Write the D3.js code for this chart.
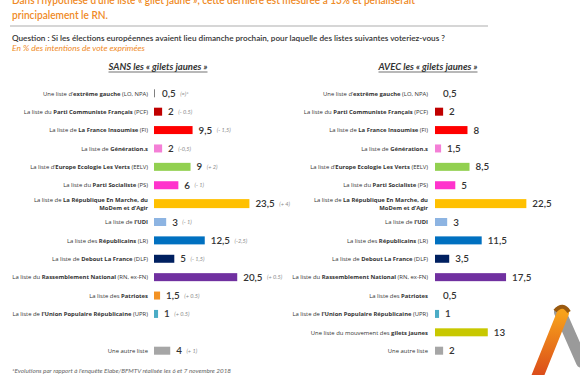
<!DOCTYPE html>
<html><head><meta charset="utf-8">
<script src="https://cdn.jsdelivr.net/npm/d3@7/dist/d3.min.js"></script>
<style>
html,body{margin:0;padding:0;background:#fff;}
svg{display:block;font-family:Lato,"Open Sans",sans-serif;}
</style></head>
<body>
<svg id="chart" width="580" height="375"></svg>
<script>
// ---------- data ----------
const titleLines = [
  "Dans l'hypothèse d'une liste « gilet jaune », cette dernière est mesurée à 13% et pénaliserait",
  "principalement le RN."
];
const question = "Question : Si les élections européennes avaient lieu dimanche prochain, pour laquelle des listes suivantes voteriez-vous ?";
const subtitle = "En % des intentions de vote exprimées";
const footnote = "*Evolutions par rapport à l'enquête Elabe/BFMTV réalisée les 6 et 7 novembre 2018";
const panelTitles = ["SANS les « gilets jaunes »", "AVEC les « gilets jaunes »"];

// each category: [prefix, bold part, suffix] ; LREM on two lines
const categories = [
  [["Une liste d\u2019", "extrême gauche", " (LO, NPA)"]],
  [["La liste du ", "Parti Communiste Français", " (PCF)"]],
  [["La liste de ", "La France Insoumise", " (FI)"]],
  [["La liste de ", "Génération.s", ""]],
  [["La liste d\u2019", "Europe Ecologie Les Verts", " (EELV)"]],
  [["La liste du ", "Parti Socialiste", " (PS)"]],
  [["La liste de ", "La République En Marche, du", ""], ["", "MoDem et d\u2019Agir", ""]],
  [["La liste de ", "l\u2019UDI", ""]],
  [["La liste des ", "Républicains", " (LR)"]],
  [["La liste de ", "Debout La France", " (DLF)"]],
  [["La liste du ", "Rassemblement National", " (RN, ex-FN)"]],
  [["La liste des ", "Patriotes", ""]],
  [["La liste de ", "l\u2019Union Populaire Républicaine", " (UPR)"]],
  [["Une liste du mouvement des ", "gilets jaunes", ""]],
  [["", "", "Une autre liste"]]
];
const valuesSans = [0.5, 2, 9.5, 2, 9, 6, 23.5, 3, 12.5, 5, 20.5, 1.5, 1, null, 4];
const valuesAvec = [0.5, 2, 8, 1.5, 8.5, 5, 22.5, 3, 11.5, 3.5, 17.5, 0.5, 1, 13, 2];
const evolutions = ["(=)*", "(- 0.5)", "(- 1,5)", "(-0,5)", "(+ 2)", "(- 1)", "(+ 4)", "(- 1)", "(-2,5)", "(- 1,5)", "(+ 0.5)", "(+ 0.5)", "(+ 0.5)", null, "(+ 1)"];

// ---------- styles ----------
const colors = ["#7f7f7f", "#c00000", "#ff0000", "#f47fd6", "#92d050", "#ff33cc", "#ffc000",
                "#8db4e2", "#0070c0", "#002060", "#7030a0", "#f39223", "#4bacc6", "#c8c800", "#a6a6a6"];
const orange = "#ef8a25";
const textCol = "#333333";

const svg = d3.select("#chart");

// header
svg.append("text").attr("x", 12).attr("y", 4).attr("fill", orange)
  .attr("font-size", 12).attr("font-weight", 600)
  .attr("textLength", 403).attr("lengthAdjust", "spacingAndGlyphs").text(titleLines[0]);
svg.append("text").attr("x", 12).attr("y", 19).attr("fill", orange)
  .attr("font-size", 12).attr("font-weight", 600)
  .attr("textLength", 96).attr("lengthAdjust", "spacingAndGlyphs").text(titleLines[1]);
svg.append("line").attr("x1", 10).attr("x2", 488).attr("y1", 26).attr("y2", 26)
  .attr("stroke", "#c8c8c8").attr("stroke-width", 1.5);
svg.append("text").attr("x", 12).attr("y", 41).attr("fill", textCol)
  .attr("font-size", 8).attr("font-weight", 600)
  .attr("textLength", 433).attr("lengthAdjust", "spacingAndGlyphs").text(question);
svg.append("text").attr("x", 12).attr("y", 51).attr("fill", orange)
  .attr("font-size", 7.5).attr("font-style", "italic")
  .attr("textLength", 133).attr("lengthAdjust", "spacingAndGlyphs").text(subtitle);
svg.append("text").attr("x", 12).attr("y", 373).attr("fill", "#666")
  .attr("font-size", 6.5).attr("font-style", "italic")
  .attr("textLength", 219).attr("lengthAdjust", "spacingAndGlyphs").text(footnote);

// rows
const y = d3.scalePoint().domain(d3.range(categories.length)).range([93.3, 350.7]);
const barH = 8;

function panel(values, x0, labelRight, headCenter, title, showEvo, hideTiny) {
  const x = d3.scaleLinear().domain([0, 25]).range([x0, x0 + 25 * 4.06]);
  const g = svg.append("g");
  g.append("text").attr("x", headCenter).attr("y", 70).attr("text-anchor", "middle")
    .attr("font-size", 8.5).attr("font-weight", 700).attr("font-style", "italic").attr("fill", textCol)
    .attr("textLength", 99).attr("lengthAdjust", "spacingAndGlyphs").text(title);
  g.append("line").attr("x1", headCenter - 49.5).attr("x2", headCenter + 49.5)
    .attr("y1", 72).attr("y2", 72).attr("stroke", textCol).attr("stroke-width", 0.7);

  values.forEach((v, i) => {
    if (v === null) return;
    const cy = y(i);
    // label
    const lines = categories[i];
    lines.forEach((parts, k) => {
      const ly = cy + 2.2 + (lines.length > 1 ? (k - 0.5) * 8.6 : 0);
      const t = g.append("text").attr("x", labelRight).attr("y", ly).attr("text-anchor", "end")
        .attr("font-family", "'Open Sans', sans-serif")
        .attr("font-size", 5.9).attr("fill", textCol);
      if (parts[0]) t.append("tspan").text(parts[0]);
      if (parts[1]) t.append("tspan").attr("font-weight", 700).text(parts[1]);
      if (parts[2]) t.append("tspan").text(parts[2]);
    });
    // bar
    const w = x(v) - x(0);
    if (!(hideTiny && v < 1)) {
      g.append("rect").attr("x", x(0)).attr("y", cy - barH / 2 - (i === 6 ? 0.5 : 0))
        .attr("width", i === 0 ? 1 : w).attr("height", barH + (i === 6 ? 1 : 0)).attr("fill", colors[i]);
    }
    const vx = x(v) + 6;
    const vt = g.append("text").attr("x", vx).attr("y", cy + 3.5).attr("font-size", 9.8)
      .attr("font-weight", 600).attr("fill", textCol).text(String(v).replace(".", ","));
    if (showEvo && evolutions[i]) {
      const bw = vt.node().getComputedTextLength();
      g.append("text").attr("x", vx + bw + 4.5).attr("y", cy + 2.2).attr("font-size", 5.6)
        .attr("font-style", "italic").attr("fill", "#8a8a8a").text(evolutions[i]);
    }
  });
}
panel(valuesSans, 154, 148, 158, panelTitles[0], true, false);
panel(valuesAvec, 435, 428, 428, panelTitles[1], false, true);

// logo (triangle)
const logo = svg.append("g");
const grad = svg.append("defs").append("linearGradient").attr("id", "og")
  .attr("x1", 0).attr("y1", 1).attr("x2", 0).attr("y2", 0);
grad.append("stop").attr("offset", "0%").attr("stop-color", "#d9461a");
grad.append("stop").attr("offset", "100%").attr("stop-color", "#f7a21b");
logo.append("path").attr("d", "M560,312 L582,362").attr("stroke", "#9a9a9a")
  .attr("stroke-width", 12).attr("fill", "none").attr("stroke-linecap", "round");
logo.append("path").attr("d", "M536,380 L563,313").attr("stroke", "url(#og)")
  .attr("stroke-width", 12).attr("fill", "none").attr("stroke-linecap", "round");
logo.append("path").attr("d", "M555,311 Q563,302 569,312").attr("stroke", "#9a5a10")
  .attr("stroke-width", 4).attr("fill", "none");
</script>
</body></html>
